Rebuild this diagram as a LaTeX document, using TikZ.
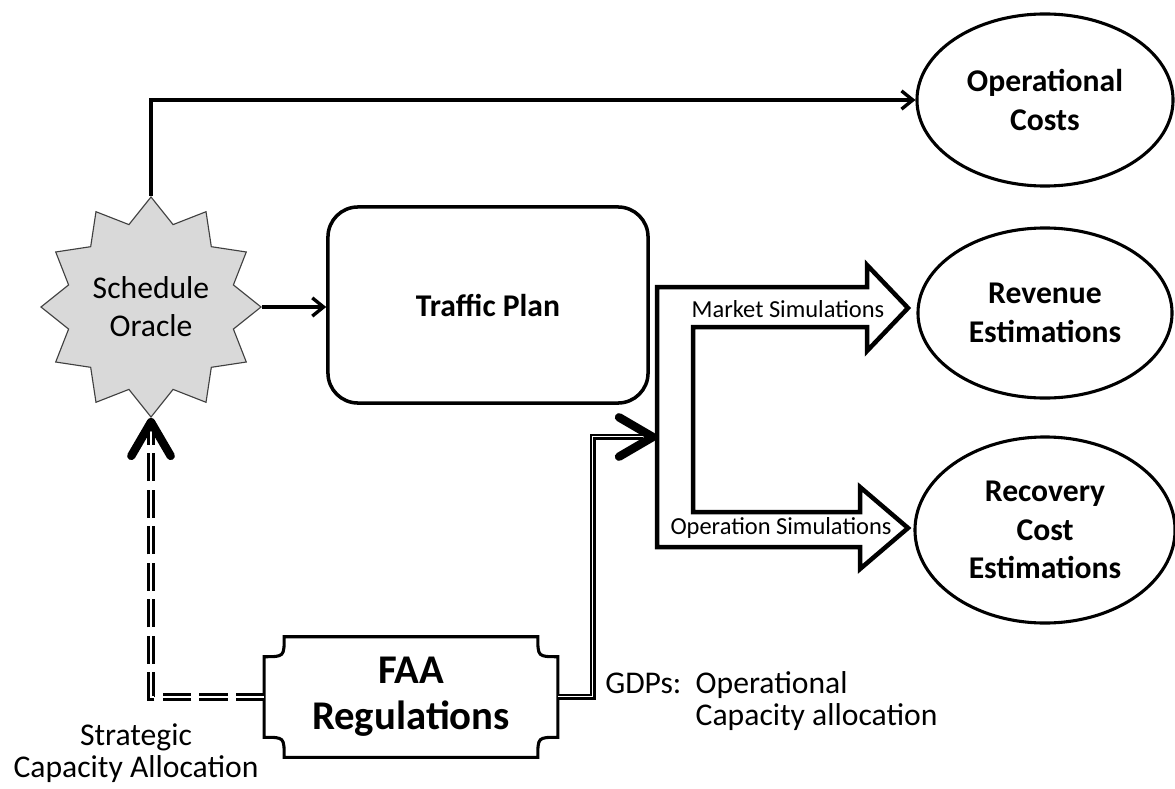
\documentclass[tikz,border=0pt]{standalone}
\usepackage{fontspec}
\setmainfont{Carlito}
\usepackage{tikz}
\definecolor{OracleGray}{HTML}{D9D9D9}
\usetikzlibrary{arrows.meta,positioning,shapes,calc}

\begin{document}
\begin{tikzpicture}[
x=0.025cm, y=-0.025cm,
oracle/.style={
	star,
	star points=12,
	star point ratio=1.29,
	draw=black!75,
	line width=0.8pt,
	fill=OracleGray,
	minimum size=5.5cm,
	inner sep=0pt,
	align=center,
	font=\fontsize{22.5}{27}\selectfont
},
outcome/.style={
	ellipse,
	draw,
	line width=2.2pt,
	inner sep=0pt,
	align=center,
	font=\bfseries\fontsize{22.5}{27.5}\selectfont
},
plan/.style={
	rectangle,
	rounded corners=0.75cm,
	draw,
	line width=2.5pt,
	minimum width=8cm,
	minimum height=4.9cm,
	font=\bfseries\fontsize{22.5}{27}\selectfont
},
faabox/.style={
	rectangle,
	minimum width=7.325cm,
	minimum height=3cm,
	align=center,
	font=\bfseries\fontsize{29}{33}\selectfont
},
simlabel/.style={
	inner sep=0pt,
	font=\fontsize{17.4}{20}\selectfont
},
txt/.style={
	inner sep=0pt,
	font=\fontsize{22.5}{23}\selectfont
},
conn/.style={
	line width=2.4pt,
	-{Straight Barb[length=8pt, width=13pt]}
},
chevron/.style={
	-{Straight Barb[length=24pt, width=28pt, line width=6pt, round]}
},
strategic/.style={
	chevron,
	line width=2.2pt,
	double=white,
	double distance=1.4pt,
	dash pattern=on 20pt off 6pt
},
gdp/.style={
	chevron,
	line width=0.9pt,
	double=white,
	double distance=2pt
},
]

\useasboundingbox (0,0) rectangle (1175,788);

\node[oracle] (oracle) at (151,307) {Schedule\\Oracle};
\node[plan] (traffic) at (488,305) {Traffic Plan};

\node[outcome, minimum width=6.4cm, minimum height=4.3cm] (opcost) at (1045,100) {Operational\\Costs};
\node[outcome, minimum width=6.35cm, minimum height=4.25cm] (revenue) at (1045,313) {Revenue\\Estimations};
\node[outcome, minimum width=6.5cm, minimum height=4.65cm] (recovery) at (1045,530) {Recovery\\Cost\\Estimations};

\node[faabox] (faa) at (411,697) {FAA\\Regulations};
\draw[line width=2.2pt] ($(faa.north west)+(20,0)$) -- ($(faa.north east)+(-20,0)$)
	.. controls ($(faa.north east)+(-20,20)$) .. ($(faa.north east)+(0,20)$)
	-- ($(faa.south east)+(0,-20)$)
	.. controls ($(faa.south east)+(-20,-20)$) .. ($(faa.south east)+(-20,0)$)
	-- ($(faa.south west)+(20,0)$)
	.. controls ($(faa.south west)+(20,-20)$) .. ($(faa.south west)+(0,-20)$)
	-- ($(faa.north west)+(0,20)$)
	.. controls ($(faa.north west)+(20,20)$) .. cycle;

% simulation block arrows
\draw[line width=3.2pt, line join=miter] (657,287) -- (867,287) -- (867,265) -- (908,308)
	-- (867,351) -- (867,327) -- (693,327) -- (693,512) -- (860,512) -- (860,487)
	-- (908,528) -- (860,569) -- (860,547) -- (657,547) -- cycle;
\node[simlabel] (market) at (788,309) {Market Simulations};
\node[simlabel] (operation) at (781,528) {Operation Simulations};
\coordinate (split) at (657,437);
\coordinate (gdpbend) at (593,437);

\draw[conn] (oracle.north) |- (opcost.west);
\draw[conn] (oracle.east) -- (oracle.east -| traffic.west);

\draw[strategic] (faa.west) -| (oracle.south);
\draw[gdp] (faa.east) -| (gdpbend) -- (split);
\draw[line width=0.5pt, shorten >=10pt] (faa.east) -| (gdpbend) -- (split);

\node[txt, anchor=base west] (gdps) at (605,693) {\begin{tabular}[t]{@{}l@{\ \ }l@{}}GDPs: & Operational\\ & Capacity allocation\end{tabular}};
\node[txt, anchor=base] (strat) at (136,745) {\begin{tabular}[t]{@{}c@{}}Strategic\\Capacity Allocation\end{tabular}};

\end{tikzpicture}
\end{document}
